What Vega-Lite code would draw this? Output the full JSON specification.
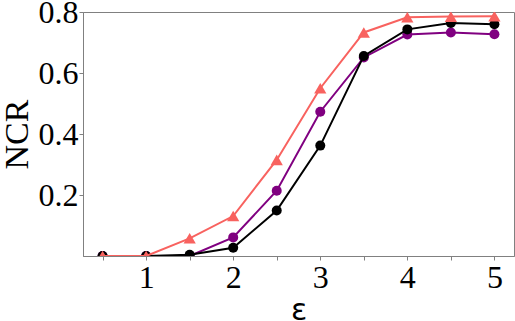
{
  "$schema": "https://vega.github.io/schema/vega-lite/v6.json",
  "autosize": {"type": "none"},
  "width": 431,
  "height": 244,
  "padding": {"left": 83, "top": 12, "right": 1, "bottom": 65},
  "background": "white",
  "config": {
    "view": {"stroke": "#808080", "strokeWidth": 1},
    "axis": {
      "grid": false,
      "domainColor": "#808080",
      "tickColor": "#808080",
      "tickSize": 4,
      "labelFont": "Liberation Serif",
      "labelFontSize": 32,
      "labelColor": "black",
      "titleColor": "black",
      "titleFontWeight": "normal"
    }
  },
  "data": {
    "values": [
      {"eps": 0.5, "ncr": 0.0, "series": "B"},
      {"eps": 1.0, "ncr": 0.0, "series": "B"},
      {"eps": 1.5, "ncr": 0.0, "series": "B"},
      {"eps": 2.0, "ncr": 0.061, "series": "B"},
      {"eps": 2.5, "ncr": 0.214, "series": "B"},
      {"eps": 3.0, "ncr": 0.473, "series": "B"},
      {"eps": 3.5, "ncr": 0.651, "series": "B"},
      {"eps": 4.0, "ncr": 0.726, "series": "B"},
      {"eps": 4.5, "ncr": 0.733, "series": "B"},
      {"eps": 5.0, "ncr": 0.727, "series": "B"},
      {"eps": 0.5, "ncr": 0.0, "series": "C"},
      {"eps": 1.0, "ncr": 0.0, "series": "C"},
      {"eps": 1.5, "ncr": 0.004, "series": "C"},
      {"eps": 2.0, "ncr": 0.027, "series": "C"},
      {"eps": 2.5, "ncr": 0.149, "series": "C"},
      {"eps": 3.0, "ncr": 0.362, "series": "C"},
      {"eps": 3.5, "ncr": 0.656, "series": "C"},
      {"eps": 4.0, "ncr": 0.743, "series": "C"},
      {"eps": 4.5, "ncr": 0.764, "series": "C"},
      {"eps": 5.0, "ncr": 0.760, "series": "C"},
      {"eps": 0.5, "ncr": 0.0, "series": "A"},
      {"eps": 1.0, "ncr": 0.0, "series": "A"},
      {"eps": 1.5, "ncr": 0.058, "series": "A"},
      {"eps": 2.0, "ncr": 0.131, "series": "A"},
      {"eps": 2.5, "ncr": 0.315, "series": "A"},
      {"eps": 3.0, "ncr": 0.550, "series": "A"},
      {"eps": 3.5, "ncr": 0.733, "series": "A"},
      {"eps": 4.0, "ncr": 0.783, "series": "A"},
      {"eps": 4.5, "ncr": 0.785, "series": "A"},
      {"eps": 5.0, "ncr": 0.786, "series": "A"}
    ]
  },
  "encoding": {
    "x": {
      "field": "eps", "type": "quantitative",
      "scale": {"domain": [0.275, 5.225], "nice": false, "zero": false},
      "axis": {
        "values": [0.5, 1, 1.5, 2, 2.5, 3, 3.5, 4, 4.5, 5],
        "labelExpr": "datum.value % 1 === 0 ? format(datum.value, 'd') : ''",
        "labelPadding": 2,
        "title": "ε",
        "titleFont": "DejaVu Sans",
        "titleFontSize": 30,
        "titlePadding": 2
      }
    },
    "y": {
      "field": "ncr", "type": "quantitative",
      "scale": {"domain": [0, 0.8], "nice": false},
      "axis": {
        "values": [0.2, 0.4, 0.6, 0.8],
        "format": ".1f",
        "labelPadding": 1,
        "title": "NCR",
        "titleFont": "Liberation Serif",
        "titleFontSize": 34,
        "titlePadding": 4
      }
    },
    "color": {
      "field": "series", "type": "nominal",
      "scale": {"domain": ["A", "B", "C"], "range": ["#f8625f", "#800080", "#000000"]},
      "legend": null
    }
  },
  "layer": [
    {
      "transform": [{"filter": "datum.series === 'B'"}],
      "mark": {"type": "line", "strokeWidth": 2, "clip": true, "point": {"filled": true, "shape": "circle", "size": 100, "opacity": 1}}
    },
    {
      "transform": [{"filter": "datum.series === 'C'"}],
      "mark": {"type": "line", "strokeWidth": 2, "clip": true, "point": {"filled": true, "shape": "circle", "size": 100, "opacity": 1}}
    },
    {
      "transform": [{"filter": "datum.series === 'A'"}],
      "mark": {"type": "line", "strokeWidth": 2, "clip": true, "point": {"filled": true, "shape": "triangle-up", "size": 150, "opacity": 1}}
    }
  ]
}
